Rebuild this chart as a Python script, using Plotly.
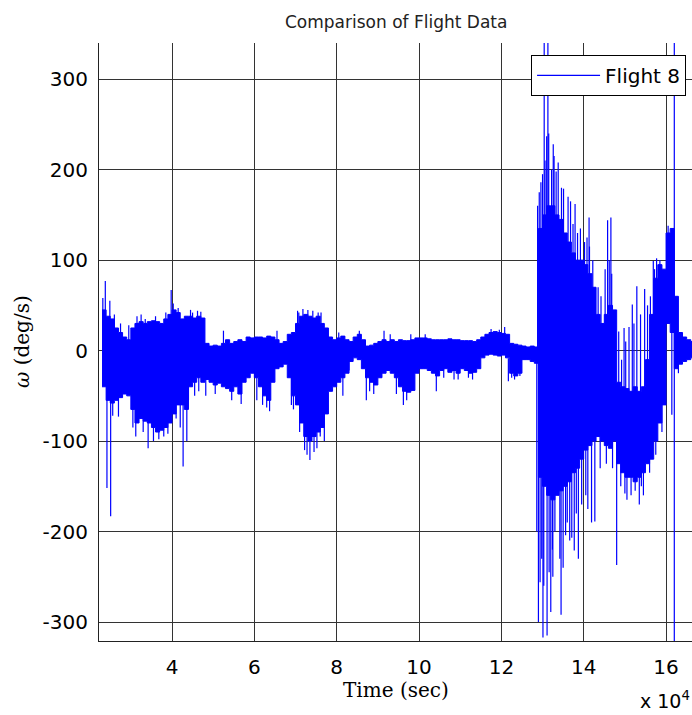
import numpy as np
import plotly.graph_objects as go

# ---------------- data (time in units of 10^4 s, angular rate in deg/s) ----------------
time_1e4s = np.round(np.arange(2.3, 16.71, 0.1), 1)

# dense-band envelope of the Flight 8 signal, read per 0.1 x 10^4 s
omega_hi = [45, 38, 35, 25, 20, 15, 12,
            25, 30, 32, 30, 32, 33, 32, 30, 35, 40,
            45, 42, 35, 38, 38, 36, 38, 36, 8, 5,
            6, 5, 8, 12, 8, 10, 12, 10, 15, 14,
            15, 15, 14, 16, 15, 12, 8, 10, 18, 20,
            30, 38, 40, 38, 36, 38, 30, 25, 15, 12,
            14, 16, 12, 10, 15, 18, 12, 5, 6, 8,
            10, 12, 10, 12, 10, 12, 11, 11, 12, 14,
            14, 14, 13, 12, 12, 12, 12, 13, 12, 12,
            11, 11, 11, 10, 12, 15, 18, 20, 21, 20,
            19, 18, 8, 7, 6, 5, 4, 5, 4, 135,
            150, 160, 160, 150, 145, 130, 120, 108, 100, 100,
            95, 85, 70, 40, 30, 40, 50, 45, -35, -40,
            -42, -45, -40, -45, -40, -10, 40, 80, 95, 90,
            130, 135, 60, 20, 15, 12, 10, 8]
omega_lo = [-40, -55, -58, -55, -52, -48, -50,
            -65, -80, -75, -78, -80, -85, -90, -88, -85, -80,
            -70, -60, -60, -65, -40, -35, -30, -35, -32, -35,
            -38, -36, -40, -42, -45, -40, -48, -35, -30, -25,
            -30, -40, -50, -55, -35, -20, -18, -15, -30, -50,
            -60, -80, -95, -100, -95, -90, -85, -70, -45, -40,
            -35, -30, -25, -12, -8, -10, -20, -30, -35, -38,
            -30, -25, -22, -25, -30, -40, -45, -46, -44, -25,
            -20, -20, -22, -25, -28, -22, -20, -24, -22, -25,
            -20, -22, -25, -24, -20, -8, -5, -4, -5, -6,
            -5, -8, -25, -28, -25, -10, -10, -12, -14, -140,
            -150, -160, -165, -160, -155, -150, -145, -135, -130, -120,
            -110, -105, -100, -95, -100, -105, -108, -100, -125, -135,
            -140, -140, -145, -140, -135, -125, -120, -100, -80, -60,
            30, 20, -20, -15, -12, -10, -8, -6]

# isolated excursions (spikes) beyond the dense band: (time, value)
spikes = [
    (2.32, 58), (2.38, 77), (2.42, -152), (2.49, 55), (2.51, -183), (2.56, -72), (2.60, 40),
    (2.70, -73), (2.75, 30), (2.95, 28), (3.05, -85), (3.12, -95), (3.15, 38), (3.25, 40),
    (3.30, -90), (3.35, 35), (3.42, -108), (3.55, -100), (3.60, 38), (3.68, -98), (3.80, -95),
    (3.85, 42), (3.90, -92), (3.98, 67), (4.03, 52), (4.10, -75), (4.15, 47), (4.20, -85),
    (4.27, -128), (4.36, -100), (4.40, -55), (4.45, 45), (4.50, 42), (4.55, -50), (4.62, 44),
    (4.65, -45), (4.70, 43), (4.82, -50), (5.05, -48), (5.25, 22), (5.45, -55), (5.68, -59),
    (6.06, -55), (6.20, -60), (6.30, -63), (6.37, -67), (6.55, 22), (6.90, -60), (6.95, -65),
    (7.05, 44), (7.08, 42), (7.10, -90), (7.18, 46), (7.22, -110), (7.28, -115), (7.30, 45),
    (7.35, -121), (7.42, 44), (7.45, -112), (7.52, -108), (7.55, 42), (7.60, -95), (7.62, 42),
    (7.70, -100), (8.05, 20), (8.15, -50), (8.30, -22), (8.55, 22), (8.72, -55), (8.80, -45),
    (8.90, -48), (9.15, 22), (9.30, 18), (9.45, -48), (9.62, -60), (9.70, -55), (9.80, 18),
    (10.15, 18), (10.42, -45), (10.60, -30), (10.85, -32), (10.95, -32), (11.20, -30),
    (11.30, -32), (11.75, 24), (11.95, 23), (12.08, 26), (12.17, -34), (12.25, -30),
    (12.32, -32), (12.45, -28),
    (12.86, -200), (12.88, 160), (12.90, -300), (12.92, 175), (12.94, -256), (12.96, 186),
    (12.98, -230), (13.00, 195), (13.01, -317), (13.03, -260), (13.04, 370), (13.06, 210),
    (13.10, 237), (13.11, -315), (13.13, 370), (13.15, 240), (13.16, -245), (13.20, -289),
    (13.22, 200), (13.24, -220), (13.25, -250), (13.26, 228), (13.28, 215), (13.30, -200),
    (13.33, 198), (13.38, 208), (13.42, -230), (13.45, -292), (13.46, 180), (13.50, -240),
    (13.51, 179), (13.56, -204), (13.60, -190), (13.62, 170), (13.66, -210), (13.68, 165),
    (13.71, -207), (13.74, 140), (13.77, -221), (13.79, 162), (13.82, -180), (13.85, 130),
    (13.87, -230), (13.92, 135), (13.95, -170), (14.02, 120), (14.05, -160), (14.08, 125),
    (14.10, -175), (14.13, 147), (14.14, 115), (14.19, -190), (14.22, 100), (14.27, -189),
    (14.35, 70), (14.40, -130), (14.42, 60), (14.52, 90), (14.55, -125), (14.58, 144),
    (14.62, 100), (14.66, 147), (14.68, 85), (14.70, -130), (14.80, -237), (14.85, 21),
    (14.90, -150), (14.92, -10), (14.98, 25), (15.00, -158), (15.02, 10), (15.05, -165),
    (15.10, 26), (15.15, -160), (15.18, 51), (15.22, 30), (15.25, -155), (15.29, 71),
    (15.35, -170), (15.38, 40), (15.40, -150), (15.45, -160), (15.48, 68), (15.55, 50),
    (15.60, -135), (15.62, 60), (15.69, 99), (15.72, 90), (15.75, -115), (15.77, 102),
    (15.85, 100), (15.90, -90), (15.95, -60), (16.05, 138), (16.14, -71), (16.20, 370),
    (16.20, -330), (16.25, 25), (16.30, -25),
]
spike_t = [s[0] for s in spikes]
spike_v = [s[1] for s in spikes]

x_tick_vals = [4, 6, 8, 10, 12, 14, 16]
x_tick_text = ["4", "6", "8", "10", "12", "14", "16"]
y_tick_vals = [-300, -200, -100, 0, 100, 200, 300]
y_tick_text = ["-300", "-200", "-100", "0", "100", "200", "300"]

# ---------------- build spike segments ----------------
hi_arr = np.array(omega_hi, dtype=float)
lo_arr = np.array(omega_lo, dtype=float)
mid = (hi_arr + lo_arr) / 2
sx, sy = [], []
for t, v in zip(spike_t, spike_v):
    i = int(np.argmin(np.abs(time_1e4s - t)))
    sx += [t, t, None]
    sy += [mid[i], v, None]

BLUE = "#0000ff"
fig = go.Figure()
fig.add_trace(go.Scatter(x=time_1e4s, y=omega_lo, mode="lines",
                         line=dict(color=BLUE, width=1, shape="hv"),
                         showlegend=False, hoverinfo="skip"))
fig.add_trace(go.Scatter(x=time_1e4s, y=omega_hi, mode="lines", fill="tonexty",
                         fillcolor=BLUE, line=dict(color=BLUE, width=1, shape="hv"),
                         showlegend=False, hoverinfo="skip"))
fig.add_trace(go.Scatter(x=sx, y=sy, mode="lines", name="Flight 8",
                         line=dict(color=BLUE, width=1.2), connectgaps=False))

axis_font = dict(family="DejaVu Sans", size=20, color="black")
fig.update_layout(
    width=692, height=715,
    margin=dict(l=99, r=0, t=43, b=74),
    paper_bgcolor="white", plot_bgcolor="white",
    showlegend=True,
    legend=dict(x=0.99, y=0.98, xanchor="right", yanchor="top",
                bgcolor="white", bordercolor="black", borderwidth=1,
                font=dict(family="DejaVu Sans", size=20, color="black"),
                itemwidth=63),
    xaxis=dict(range=[2.227, 16.63], tickmode="array", tickvals=x_tick_vals,
               ticktext=x_tick_text, showgrid=True, gridcolor="#333333", gridwidth=1,
               showline=True, linecolor="#222222", linewidth=1, mirror=False,
               zeroline=False, ticks="", tickfont=axis_font, ticklabelstandoff=8),
    yaxis=dict(range=[-321, 340], tickmode="array", tickvals=y_tick_vals,
               ticktext=y_tick_text, showgrid=True, gridcolor="#333333", gridwidth=1,
               showline=True, linecolor="#222222", linewidth=1, mirror=False,
               zeroline=False, ticks="", tickfont=axis_font, ticklabelstandoff=6),
    annotations=[
        dict(text="Comparison of Flight Data", xref="paper", yref="paper",
             x=0.5, y=(641 - 22) / 598, xanchor="center", yanchor="middle",
             showarrow=False, font=dict(family="DejaVu Sans", size=17, color="#222222")),
        dict(text="Time (sec)", xref="paper", yref="paper",
             x=0.5, y=(641 - 690) / 598, xanchor="center", yanchor="middle",
             showarrow=False, font=dict(family="DejaVu Serif", size=20, color="black")),
        dict(text="<i>ω</i> (deg/s)", xref="paper", yref="paper",
             x=(22 - 99) / 593, y=0.5, xanchor="center", yanchor="middle", textangle=-90,
             showarrow=False, font=dict(family="DejaVu Serif", size=20, color="black")),
        dict(text="x 10<sup>4</sup>", xref="paper", yref="paper",
             x=1.0, y=(641 - 700) / 598, xanchor="right", yanchor="middle",
             showarrow=False, font=dict(family="DejaVu Sans", size=19, color="black")),
    ],
)

fig.write_html("out.html")
